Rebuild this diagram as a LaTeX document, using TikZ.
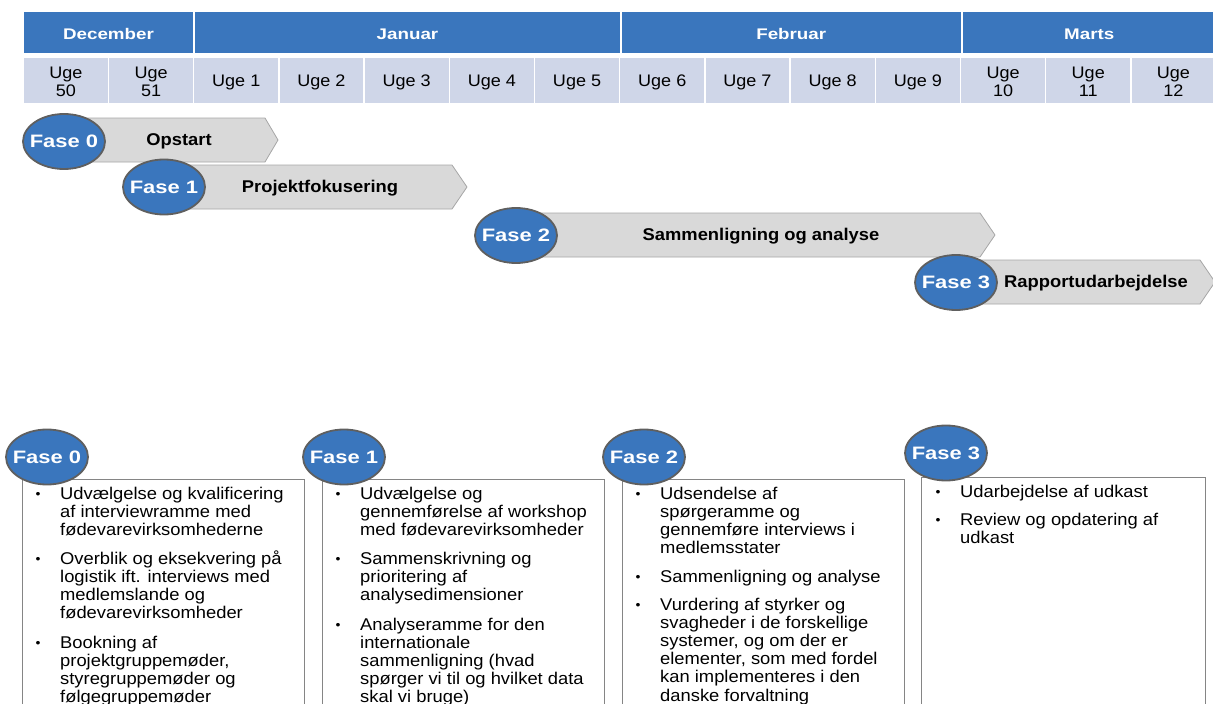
\documentclass[tikz,border=0pt]{standalone}
\usepackage{fontspec}
\setmainfont{Liberation Sans}[FakeStretch=1.08]
\newfontfamily\widefont{Liberation Sans}[FakeStretch=1.22]
\usetikzlibrary{shapes.geometric}
\definecolor{hblue}{HTML}{3A76BD}
\definecolor{wkfill}{HTML}{CFD6E8}
\definecolor{arrfill}{HTML}{D9D9D9}
\definecolor{arrdraw}{HTML}{A6A6A6}
\definecolor{ellline}{HTML}{5F5F5F}
\definecolor{boxline}{HTML}{858585}
\begin{document}
\begin{tikzpicture}[x=1pt,y=-1pt,
  mo/.style={fill=hblue, draw=none, minimum height=41pt, inner sep=0pt, text=white, font=\widefont\fontsize{15.4}{16}\selectfont\bfseries},
  mtxt/.style={inner sep=0pt, text=white, font=\widefont\fontsize{15.4}{16}\selectfont\bfseries},
  wk/.style={fill=wkfill, draw=none, minimum width=83.7pt, minimum height=45pt, inner sep=0pt},
  wtxt/.style={inner sep=0pt, align=center, font=\fontsize{16.7}{18}\selectfont},
  arr/.style={fill=arrfill, draw=arrdraw, line width=0.8pt},
  fase/.style={ellipse, fill=hblue, draw=ellline, line width=1.8pt, minimum width=82pt, minimum height=55pt, inner xsep=-9pt, inner ysep=0pt, text=white, font=\widefont\fontsize{18}{18}\selectfont\bfseries},
  alab/.style={inner sep=0pt, font=\fontsize{17}{18}\selectfont\bfseries},
  pbox/.style={draw=boxline, line width=0.8pt, fill=white},
  btxt/.style={anchor=base west, align=left, inner sep=0pt, font=\fontsize{17}{18.2}\selectfont},
  bdot/.style={anchor=base, inner sep=0pt, font=\fontsize{13}{13}\selectfont}]
\useasboundingbox (0,0) rectangle (1213,704);
\clip (0,0) rectangle (1213,704);

% month header
\node[mo, minimum width=169pt] (mdec) at (108.5,32.5) {};
\node[mtxt] (mdect) at (108.5,34) {December};
\node[mo, minimum width=425pt] (mjan) at (407.5,32.5) {};
\node[mtxt] (mjant) at (407.5,34) {Januar};
\node[mo, minimum width=339.5pt] (mfeb) at (791.25,32.5) {};
\node[mtxt] (mfebt) at (791.25,34) {Februar};
\node[mo, minimum width=253pt] (mmar) at (1089.2,32.5) {};
\node[mtxt] (mmart) at (1089.2,34) {Marts};

% week row
\foreach \i/\t in {0/{Uge\\50},1/{Uge\\51},2/{Uge 1},3/{Uge 2},4/{Uge 3},5/{Uge 4},6/{Uge 5},7/{Uge 6},8/{Uge 7},9/{Uge 8},10/{Uge 9},11/{Uge\\10},12/{Uge\\11},13/{Uge\\12}}{
  \node[wk] (w\i) at ({24+85.2*\i+41.85},80.5) {};
  \node[wtxt] (wt\i) at ({24+85.2*\i+41.85},82) {\t};
}

% phase arrows
\draw[arr] (64,118) -- (265,118) -- (278,140) -- (265,162) -- (64,162) -- cycle;
\node[alab] (l0) at (179,141.5) {Opstart};
\node[fase] (f0) at (64,141.5) {Fase 0};
\draw[arr] (164,165) -- (452,165) -- (467,187) -- (452,209) -- (164,209) -- cycle;
\node[alab] (l1) at (320,188.5) {Projektfokusering};
\node[fase] (f1) at (164,187) {Fase 1};
\draw[arr] (516,213) -- (980,213) -- (995,235) -- (980,257) -- (516,257) -- cycle;
\node[alab] (l2) at (761,236.5) {Sammenligning og analyse};
\node[fase] (f2) at (516,235.5) {Fase 2};
\draw[arr] (956,260) -- (1200,260) -- (1215,282) -- (1200,304) -- (956,304) -- cycle;
\node[alab] (l3) at (1096,283.5) {Rapportudarbejdelse};
\node[fase] (f3) at (956,282.5) {Fase 3};

% bottom boxes
\draw[pbox] (22,720) -- (22,479) -- (304,479) -- (304,720);
\draw[pbox] (322,720) -- (322,479) -- (604,479) -- (604,720);
\draw[pbox] (622,720) -- (622,479) -- (904,479) -- (904,720);
\draw[pbox] (921,720) -- (921,477) -- (1205,477) -- (1205,720);
\node[fase] (g0) at (47,457) {Fase 0};
\node[fase] (g1) at (344,457) {Fase 1};
\node[fase] (g2) at (644,457) {Fase 2};
\node[fase] (g3) at (946,453) {Fase 3};

% box 0 (text nodes placed at the baseline of their last line)
\node[bdot] (d00) at (38,498.5) {•};
\node[btxt] (t00) at (60,535.4) {Udvælgelse og kvalificering\\af interviewramme med\\fødevarevirksomhederne};
\node[bdot] (d01) at (38,563.5) {•};
\node[btxt] (t01) at (60,618.6) {Overblik og eksekvering på\\logistik ift. interviews med\\medlemslande  og\\fødevarevirksomheder};
\node[bdot] (d02) at (38,647.5) {•};
\node[btxt] (t02) at (60,702.6) {Bookning af\\projektgruppemøder,\\styregruppemøder og\\følgegruppemøder};
% box 1
\node[bdot] (d10) at (338,498.5) {•};
\node[btxt] (t10) at (360,535.4) {Udvælgelse og\\gennemførelse af workshop\\med fødevarevirksomheder};
\node[bdot] (d11) at (338,563.5) {•};
\node[btxt] (t11) at (360,600.4) {Sammenskrivning og\\prioritering af\\analysedimensioner};
\node[bdot] (d12) at (338,629.5) {•};
\node[btxt] (t12) at (360,702.8) {Analyseramme for den\\internationale\\sammenligning  (hvad\\spørger vi til og hvilket data\\skal vi bruge)};
% box 2
\node[bdot] (d20) at (638,498.5) {•};
\node[btxt] (t20) at (660,553.6) {Udsendelse af\\spørgeramme  og\\gennemføre interviews i\\medlemsstater};
\node[bdot] (d21) at (638,581.5) {•};
\node[btxt] (t21) at (660,582) {Sammenligning  og analyse};
\node[bdot] (d22) at (638,609.5) {•};
\node[btxt] (t22) at (660,701) {Vurdering af styrker og\\svagheder i de forskellige\\systemer, og om der er\\elementer, som med fordel\\kan implementeres i den\\danske forvaltning};
% box 3
\node[bdot] (d30) at (938,496.5) {•};
\node[btxt] (t30) at (960,497) {Udarbejdelse  af udkast};
\node[bdot] (d31) at (938,524.5) {•};
\node[btxt] (t31) at (960,543.2) {Review og opdatering af\\udkast};
\end{tikzpicture}
\end{document}
